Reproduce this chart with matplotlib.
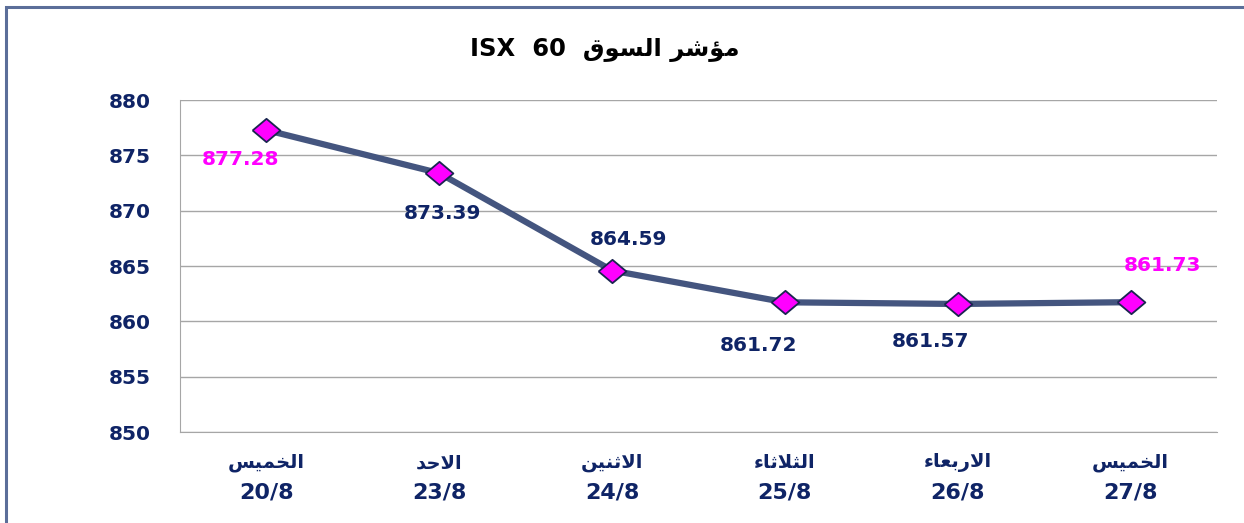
import matplotlib
matplotlib.use("Agg")
import matplotlib.pyplot as plt
from matplotlib.patches import Rectangle

# ---------------- data ----------------
days = ["الخميس", "الاحد", "الاثنين", "الثلاثاء", "الاربعاء", "الخميس"]
dates = ["20/8", "23/8", "24/8", "25/8", "26/8", "27/8"]
values = [877.28, 873.39, 864.59, 861.72, 861.57, 861.73]
title_ar = "مؤشر السوق"
title_en = "ISX  60"
yticks = [850, 855, 860, 865, 870, 875, 880]

# ------------- simple Arabic shaping (presentation forms) -------------
FORMS = {  # isolated, final, initial, medial
    "ا": ("\uFE8D", "\uFE8E", None, None),
    "ب": ("\uFE8F", "\uFE90", "\uFE91", "\uFE92"),
    "ت": ("\uFE95", "\uFE96", "\uFE97", "\uFE98"),
    "ث": ("\uFE99", "\uFE9A", "\uFE9B", "\uFE9C"),
    "ح": ("\uFEA1", "\uFEA2", "\uFEA3", "\uFEA4"),
    "خ": ("\uFEA5", "\uFEA6", "\uFEA7", "\uFEA8"),
    "د": ("\uFEA9", "\uFEAA", None, None),
    "ر": ("\uFEAD", "\uFEAE", None, None),
    "س": ("\uFEB1", "\uFEB2", "\uFEB3", "\uFEB4"),
    "ش": ("\uFEB5", "\uFEB6", "\uFEB7", "\uFEB8"),
    "ع": ("\uFEC9", "\uFECA", "\uFECB", "\uFECC"),
    "ق": ("\uFED5", "\uFED6", "\uFED7", "\uFED8"),
    "ل": ("\uFEDD", "\uFEDE", "\uFEDF", "\uFEE0"),
    "م": ("\uFEE1", "\uFEE2", "\uFEE3", "\uFEE4"),
    "ن": ("\uFEE5", "\uFEE6", "\uFEE7", "\uFEE8"),
    "و": ("\uFEED", "\uFEEE", None, None),
    "ؤ": ("\uFE85", "\uFE86", None, None),
    "ي": ("\uFEF1", "\uFEF2", "\uFEF3", "\uFEF4"),
    "ء": ("\uFE80", None, None, None),
    "LA": ("\uFEFB", "\uFEFC", None, None),
}


def joins_next(c):
    return c in FORMS and FORMS[c][2] is not None


def joins_prev(c):
    return c in FORMS and FORMS[c][1] is not None


def shape(text):
    toks = []
    i = 0
    while i < len(text):
        if text[i] == "ل" and i + 1 < len(text) and text[i + 1] == "ا":
            toks.append("LA")
            i += 2
        else:
            toks.append(text[i])
            i += 1
    out = []
    for k, t in enumerate(toks):
        if t not in FORMS:
            out.append(t)
            continue
        prev = toks[k - 1] if k > 0 else None
        nxt = toks[k + 1] if k + 1 < len(toks) else None
        p = prev is not None and joins_next(prev) and joins_prev(t)
        n = nxt is not None and joins_next(t) and joins_prev(nxt)
        iso, fin, ini, med = FORMS[t]
        if p and n:
            out.append(med)
        elif p:
            out.append(fin)
        elif n:
            out.append(ini)
        else:
            out.append(iso)
    return "".join(reversed(out))


# ---------------- figure ----------------
navy = "#0F2466"
magenta = "#FF00FF"
line_col = "#44557F"
grid_col = "#A6A6A6"

fig = plt.figure(figsize=(12.44, 5.23), dpi=100)
fig.patch.set_facecolor("white")
fig.patches.append(Rectangle((6 / 1244, -0.1), 1.2, 1 - 7 / 523 + 0.1,
                             transform=fig.transFigure, fill=False,
                             edgecolor="#5B6E99", linewidth=2.2, clip_on=False))

ax = fig.add_axes([180 / 1244, 1 - 432 / 523, (1217 - 180) / 1244, (432 - 100) / 523])
x = list(range(len(values)))
diamond = [(-1, 0), (0, 0.84), (1, 0), (0, -0.84), (-1, 0)]
ax.plot(x, values, color=line_col, linewidth=4.5, marker=diamond, markersize=20,
        markerfacecolor=magenta, markeredgecolor="#1A2550", markeredgewidth=1.3,
        zorder=3, solid_capstyle="round")

ax.set_xlim(-0.5, len(values) - 0.5)
ax.set_ylim(850, 880)
ax.set_yticks(yticks)
ax.set_yticklabels([str(v) for v in yticks], fontsize=14.5, fontweight="bold", color=navy)
ax.yaxis.grid(True, color=grid_col, linewidth=1.0)
ax.set_axisbelow(True)
ax.tick_params(axis="y", length=0, pad=21)
ax.tick_params(axis="x", length=0)
ax.set_xticks(x)
ax.set_xticklabels([])
for s in ["top", "right"]:
    ax.spines[s].set_visible(False)
ax.spines["left"].set_color(grid_col)
ax.spines["bottom"].set_color(grid_col)

# x labels: day name + date
for xi, d, dt in zip(x, days, dates):
    ax.annotate(shape(d), xy=(xi, 850), xycoords="data", xytext=(0, -31),
                textcoords="offset pixels", ha="center", va="center",
                fontsize=14, fontweight="bold", color=navy, family=["DejaVu Sans"])
    ax.annotate(dt, xy=(xi, 850), xycoords="data", xytext=(0, -61),
                textcoords="offset pixels", ha="center", va="center",
                fontsize=16, fontweight="bold", color=navy)

# data labels
offsets = [(-26, -29), (3, -40), (16, 31), (-26, -43), (-27, -38), (32, 37)]
lab_cols = [magenta, navy, navy, navy, navy, magenta]
for xi, v, off, c in zip(x, values, offsets, lab_cols):
    ax.annotate(f"{v:.2f}", xy=(xi, v), xytext=off, textcoords="offset pixels",
                ha="center", va="center", fontsize=14.5, fontweight="bold", color=c,
                zorder=4)

fig.text(605 / 1244, 1 - 50 / 523, title_en + "  " + shape(title_ar),
         ha="center", va="center", fontsize=17.5, fontweight="bold", color="black",
         family=["DejaVu Sans"])

fig.savefig("out.png", dpi=100)
